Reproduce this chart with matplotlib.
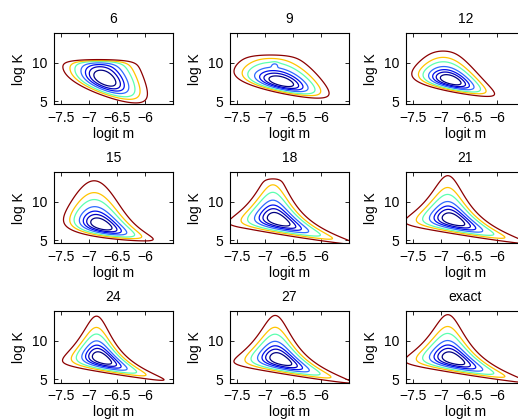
import numpy as np
import matplotlib
matplotlib.use('Agg')
import matplotlib.pyplot as plt

plt.rcParams['font.family'] = ['Liberation Sans', 'DejaVu Sans']
plt.rcParams['font.size'] = 10

# panel titles (number of design points / exact posterior)
titles = ['6', '9', '12', '15', '18', '21', '24', '27', 'exact']

# per-panel shape parameters of the plotted posterior density
mode_x     = [-6.72, -6.68, -6.80, -6.75, -6.74, -6.76, -6.75, -6.70, -6.76]
mode_y     = [7.9, 7.5, 7.7, 7.0, 7.6, 7.6, 7.64, 7.5, 7.6]
wall_slope = [2.5, 1.1, 1.1, 0.45, 1.1, 1.1, 1.1, 1.1, 1.1]
wall_soft  = [1.0, 0.8, 0.8, 0.8, 0.8, 0.8, 0.8, 0.8, 0.8]
rise       = [1.0, 1.5, 1.6, 1.0, 0.9, 1.0, 1.05, 1.0, 1.0]
width0     = [0.22, 0.24, 0.23, 0.22, 0.32, 0.32, 0.27, 0.31, 0.32]
narrowing  = [0.0, 0.0, 0.2, 0.2, 0.6, 0.6, 0.6, 0.6, 0.6]
shift_inf  = [0.0, -0.11, -0.11, -0.15, -0.11, -0.11, -0.11, -0.11, -0.11]
shift_amp  = [0.0, 0.21, 0.21, 0.3, 0.21, 0.21, 0.21, 0.21, 0.21]
cap_y      = [10.0, 10.9, 11.8, 99.0, 12.9, 99.0, 99.0, 99.0, 99.0]
cap_soft   = [0.25, 0.25, 0.3, 0.3, 0.2, 0.3, 0.3, 0.3, 0.3]
# small secondary mode (island) seen in panel "9"
island_x   = [None, -6.83, None, None, None, None, None, None, None]
island_y   = [None, 9.65, None, None, None, None, None, None, None]
island_w   = [0.0, 0.12, 0.0, 0.0, 0.0, 0.0, 0.0, 0.0, 0.0]

# contour levels of negative log density (inner -> outer)
levels = [0.4, 0.8, 1.25, 1.9, 3.0, 4.1, 6.0]
line_colors = ['#000080', '#0000C0', '#0010F0', '#2F6BFF', '#5CFFB0', '#FFC400', '#8C0000']

xticks = [-7.5, -7, -6.5, -6]
xtick_labels = ['\u22127.5', '\u22127', '\u22126.5', '\u22126']
yticks = [5, 10]
xlim = (-7.63, -5.5)
ylim = (4.6, 13.8)

gx = np.linspace(-7.9, -5.2, 400)
gy = np.linspace(3.8, 15.0, 400)
X, Y = np.meshgrid(gx, gy)


def neg_log_density(i):
    s = X - mode_x[i]
    t = (Y - mode_y[i]) + wall_slope[i] * s
    r = t / wall_soft[i]
    H = rise[i] * (np.exp(np.clip(-r, -50, 50)) - 1 + r)
    sig = width0[i] * np.maximum(t + 2.0, 0.3) ** (-narrowing[i])
    m = shift_inf[i] + shift_amp[i] * np.exp(np.clip(-(t + 1.0), -50, 3))
    F = H + (s - m) ** 2 / (2 * sig ** 2)
    F = F + np.exp(np.clip((Y - cap_y[i]) / cap_soft[i], -50, 50))
    p = np.exp(-F)
    if island_x[i] is not None:
        p = p + island_w[i] * np.exp(-((X - island_x[i]) ** 2 / (2 * 0.04 ** 2)
                                       + (Y - island_y[i]) ** 2 / (2 * 0.2 ** 2)))
    return -np.log(np.maximum(p, 1e-300))


fig = plt.figure(figsize=(5.18, 4.19), dpi=100)
W, Hh = 518.0, 419.0
for i, title in enumerate(titles):
    r, c = divmod(i, 3)
    left = 54 + 176 * c
    top = 33 + 139 * r
    ax = fig.add_axes([left / W, 1 - (top + 71.5) / Hh, 119 / W, 71.5 / Hh])
    Z = neg_log_density(i)
    ax.contour(X, Y, Z, levels=levels, colors=line_colors, linewidths=0.9)
    ax.set_xlim(*xlim)
    ax.set_ylim(*ylim)
    ax.set_xticks(xticks)
    ax.set_xticklabels(xtick_labels)
    ax.set_yticks(yticks)
    ax.tick_params(direction='in', top=True, right=True, length=3, width=0.6,
                   labelsize=10, pad=5)
    for sp in ax.spines.values():
        sp.set_linewidth(0.8)
    ax.set_title(title, fontsize=10, pad=7)
    ax.set_xlabel('logit m', fontsize=10, labelpad=1)
    ax.set_ylabel('log K', fontsize=10, labelpad=4)

fig.savefig('out.png', dpi=100)
